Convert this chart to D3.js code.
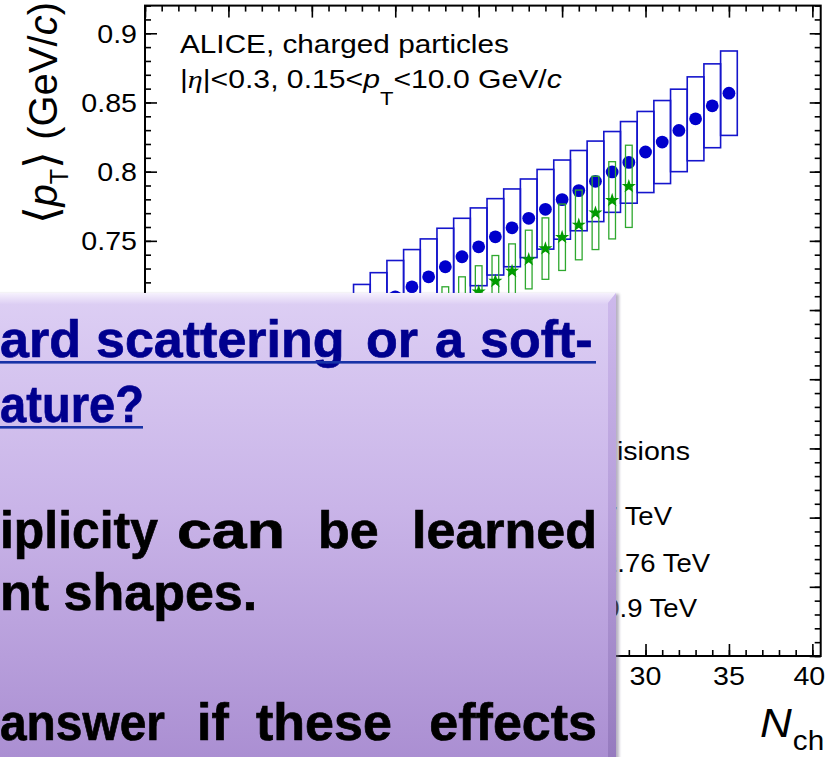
<!DOCTYPE html>
<html>
<head>
<meta charset="utf-8">
<script src="https://cdn.jsdelivr.net/npm/d3@7"></script>
<style>
  body { margin: 0; background: #ffffff; }
  svg { display: block; }
</style>
</head>
<body>
<svg id="chart" width="837" height="757"></svg>
<script>
// ---- data: mean transverse momentum vs charged multiplicity ----
const nch7 = [13, 14, 15, 16, 17, 18, 19, 20, 21, 22, 23, 24, 25, 26, 27, 28, 29, 30, 31, 32, 33, 34, 35];
const meanPt7 = [0.693, 0.701, 0.7095, 0.7168, 0.724, 0.7313, 0.7385, 0.7457, 0.7529, 0.7594, 0.7663, 0.7728,
                 0.7798, 0.7863, 0.793, 0.7998, 0.8067, 0.8142, 0.8214, 0.8298, 0.8382, 0.8476, 0.8567];
const sys7 = [0.0255, 0.026, 0.0263, 0.0269, 0.0274, 0.0278, 0.0278, 0.0281, 0.0276, 0.0281, 0.0284, 0.0288,
              0.0286, 0.029, 0.0291, 0.0292, 0.0295, 0.0293, 0.03, 0.0298, 0.0303, 0.0303, 0.0305];

const nch276 = [18, 19, 20, 21, 22, 23, 24, 25, 26, 27, 28, 29];
const meanPt276 = [0.699, 0.706, 0.7132, 0.7209, 0.7281, 0.7365, 0.7444, 0.7526, 0.7615, 0.7702, 0.7793, 0.7894];
const sys276 = [0.0178, 0.018, 0.0188, 0.0185, 0.0197, 0.0212, 0.0222, 0.024, 0.0252, 0.0265, 0.0279, 0.0297];

const xDomain = [0, 40.5];
const yDomain = [0.45, 0.92];
const xMajorTicks = [0, 5, 10, 15, 20, 25, 30, 35, 40];
const yMajorTicks = [0.45, 0.5, 0.55, 0.6, 0.65, 0.7, 0.75, 0.8, 0.85, 0.9];
// labelled ticks left uncovered by the slide panel
const xLabelTicks = [30, 35, 40];
const xTickLabels = ["30", "35", "40"];
const yLabelTicks = [0.75, 0.8, 0.85, 0.9];
const yTickLabels = ["0.75", "0.8", "0.85", "0.9"];

const legendHeader = "pp collisions";
const legendLabels = ["7 TeV", "2.76 TeV", "0.9 TeV"];

// slide note laid over the lower-left part of the figure
const noteLine1 = ["ard", "scattering", "or", "a", "soft-"];
const noteLine2 = ["ature?"];
const noteLine3 = ["iplicity", "can", "be", "learned"];
const noteLine4 = ["nt shapes."];
const noteLine5 = ["answer", "if", "these", "effects"];

// ---- layout ----
const SANS = "'Liberation Sans', Arial, Helvetica, sans-serif";
const SERIF = "'Liberation Serif', 'Times New Roman', serif";
const SX = 1.1; // horizontal stretch of the figure lettering
const frame = { left: 145, right: 820.7, top: 5.6, bottom: 656 };
const pTop = 293, pRight = 616, pLeft = -20, pBottom = 770; // slide panel

const svg = d3.select("#chart");
const defs = svg.append("defs");
const x = d3.scaleLinear().domain(xDomain).range([frame.left, frame.right]);
const y = d3.scaleLinear().domain(yDomain).range([frame.bottom, frame.top]);

function addText(parent, o) {
  return parent.append("text")
    .attr("transform", `translate(${o.x},${o.y}) scale(${o.sx ?? SX},1)`)
    .attr("text-anchor", o.anchor || "start")
    .attr("font-family", o.family || SANS)
    .attr("font-size", o.size)
    .attr("font-weight", o.weight || "normal")
    .attr("font-style", o.style || "normal")
    .attr("fill", o.fill || "#000")
    .text(o.text || null);
}
function fitWidth(sel, x0, y0, width, rotate) {
  const w = sel.node().getComputedTextLength();
  sel.attr("transform", `translate(${x0},${y0})${rotate ? " rotate(" + rotate + ")" : ""} scale(${width / w},1)`);
}

// ---- axes: ticks on all four sides, pointing inwards ----
const yMinor = d3.range(45, 93).map(v => v / 100);
const xMinor = d3.range(0, 41);
function tickAxis(axisFn, scale, values, size, tx, ty) {
  const g = svg.append("g").attr("transform", `translate(${tx},${ty})`)
    .call(axisFn(scale).tickValues(values).tickSizeInner(-size).tickSizeOuter(0).tickFormat(""));
  g.select(".domain").remove();
  g.selectAll("line").attr("stroke", "#000").attr("stroke-width", 1.6);
}
tickAxis(d3.axisLeft, y, yMinor, 6, frame.left, 0);
tickAxis(d3.axisLeft, y, yMajorTicks, 12, frame.left, 0);
tickAxis(d3.axisRight, y, yMinor, 6, frame.right, 0);
tickAxis(d3.axisRight, y, yMajorTicks, 11, frame.right, 0);
tickAxis(d3.axisBottom, x, xMinor, 6, 0, frame.bottom);
tickAxis(d3.axisBottom, x, xMajorTicks, 12, 0, frame.bottom);
tickAxis(d3.axisTop, x, xMinor, 6, 0, frame.top);
tickAxis(d3.axisTop, x, xMajorTicks, 12, 0, frame.top);

svg.append("rect")
  .attr("x", frame.left).attr("y", frame.top)
  .attr("width", frame.right - frame.left).attr("height", frame.bottom - frame.top)
  .attr("fill", "none").attr("stroke", "#000").attr("stroke-width", 2);

// tick labels
yLabelTicks.forEach((v, i) => addText(svg, { x: 137, y: y(v) + 9.5, text: yTickLabels[i], size: 26, anchor: "end" }));
xLabelTicks.forEach((v, i) => addText(svg, { x: x(v) - (i === xLabelTicks.length - 1 ? 3 : 0), y: 685, text: xTickLabels[i], size: 26, anchor: "middle" }));

// axis titles
const yTitle = svg.append("text")
  .attr("font-family", SANS).attr("font-size", 40).attr("text-anchor", "end")
  .attr("transform", "translate(57,2) rotate(-90)");
yTitle.append("tspan").attr("font-size", 46).text("\u27E8");
yTitle.append("tspan").attr("font-style", "italic").text("p");
yTitle.append("tspan").attr("font-size", 25).attr("dy", 11).text("T");
yTitle.append("tspan").attr("font-size", 46).attr("dy", -11).text("\u27E9");
yTitle.append("tspan").text(" (GeV/");
yTitle.append("tspan").attr("font-style", "italic").text("c");
yTitle.append("tspan").text(")");

const xTitle = svg.append("text").attr("font-family", SANS).attr("transform", `translate(760,737) scale(${SX},1)`);
xTitle.append("tspan").attr("font-size", 40).attr("font-style", "italic").text("N");
xTitle.append("tspan").attr("font-size", 27).attr("dy", 13).attr("dx", 1).text("ch");

// ---- data marks ----
svg.append("g").selectAll("rect").data(nch7).join("rect")
  .attr("x", (d) => x(d - 0.5))
  .attr("width", (d) => x(d + 0.5) - x(d - 0.5))
  .attr("y", (d, i) => y(meanPt7[i] + sys7[i]))
  .attr("height", (d, i) => y(meanPt7[i] - sys7[i]) - y(meanPt7[i] + sys7[i]))
  .attr("fill", "none").attr("stroke", "#1515cc").attr("stroke-width", 1.6);

svg.append("g").selectAll("circle").data(nch7).join("circle")
  .attr("cx", (d) => x(d)).attr("cy", (d, i) => y(meanPt7[i])).attr("r", 6.4)
  .attr("fill", "#0000cc");

svg.append("g").selectAll("rect").data(nch276).join("rect")
  .attr("x", (d) => x(d - 0.2))
  .attr("width", (d) => x(d + 0.2) - x(d - 0.2))
  .attr("y", (d, i) => y(meanPt276[i] + sys276[i]))
  .attr("height", (d, i) => y(meanPt276[i] - sys276[i]) - y(meanPt276[i] + sys276[i]))
  .attr("fill", "none").attr("stroke", "#2ea82e").attr("stroke-width", 1.3);

const star = d3.symbol(d3.symbolStar, 62);
svg.append("g").selectAll("path").data(nch276).join("path")
  .attr("transform", (d, i) => `translate(${x(d)},${y(meanPt276[i])})`)
  .attr("d", star).attr("fill", "#009a00");

// ---- caption in the upper-left corner ----
const cap1 = addText(svg, { x: 180, y: 53.3, text: "ALICE, charged particles", size: 26 });
fitWidth(cap1, 180, 53.3, 329);
const cap2 = svg.append("text").attr("font-family", SANS).attr("font-size", 26);
cap2.append("tspan").text("|");
cap2.append("tspan").attr("font-family", SERIF).attr("font-style", "italic").text("\u03B7");
cap2.append("tspan").text("|<0.3, 0.15<");
cap2.append("tspan").attr("font-style", "italic").text("p");
cap2.append("tspan").attr("font-size", 19).attr("dy", 17).text("T");
cap2.append("tspan").attr("dy", -17).text("<10.0 GeV/");
cap2.append("tspan").attr("font-style", "italic").text("c");
fitWidth(cap2, 180, 88.3, 382);

// ---- legend (its left part sits behind the slide panel) ----
defs.append("clipPath").attr("id", "legendClip")
  .append("rect").attr("x", pRight).attr("y", 0).attr("width", 837 - pRight).attr("height", 757);
const legend = svg.append("g").attr("clip-path", "url(#legendClip)");
addText(legend, { x: 690, y: 460, text: legendHeader, size: 26, anchor: "end" });
const legendY = [525, 572, 617];
const legendEnds = [672, 710, 697];
legendLabels.forEach((t, i) => addText(legend, { x: legendEnds[i], y: legendY[i], text: t, size: 25, anchor: "end" }));

// ---- slide panel laid over the figure ----
const panelGrad = defs.append("linearGradient").attr("id", "panelFill").attr("x1", 0).attr("y1", 0).attr("x2", 0).attr("y2", 1);
[[0, "#ddcff4"], [0.45, "#c9b4e8"], [1, "#a98dd1"]].forEach(([o, c]) => panelGrad.append("stop").attr("offset", o).attr("stop-color", c));
const topBevel = defs.append("linearGradient").attr("id", "topBevel").attr("x1", 0).attr("y1", 0).attr("x2", 0).attr("y2", 1);
[[0, "#f6f1fd"], [1, "#ddcff4"]].forEach(([o, c]) => topBevel.append("stop").attr("offset", o).attr("stop-color", c));
const sideBevel = defs.append("linearGradient").attr("id", "sideBevel").attr("x1", 0).attr("y1", 0).attr("x2", 0).attr("y2", 1);
[[0, "#cdb9ec"], [0.5, "#b49cd8"], [1, "#9479bd"]].forEach(([o, c]) => sideBevel.append("stop").attr("offset", o).attr("stop-color", c));
defs.append("filter").attr("id", "soft").attr("x", -0.1).attr("y", -0.1).attr("width", 1.2).attr("height", 1.2)
  .append("feGaussianBlur").attr("stdDeviation", 1.6);

const panel = svg.append("g");
panel.append("rect").attr("x", pLeft).attr("y", pTop + 1).attr("width", pRight - pLeft + 3).attr("height", pBottom - pTop)
  .attr("fill", "#7d7390").attr("opacity", 0.55).attr("filter", "url(#soft)");
panel.append("rect").attr("x", pLeft).attr("y", pTop).attr("width", pRight - pLeft).attr("height", pBottom - pTop)
  .attr("fill", "url(#panelFill)");
panel.append("polygon")
  .attr("points", [[pLeft, pTop], [pRight, pTop], [pRight - 9, pTop + 11], [pLeft, pTop + 11]].join(" "))
  .attr("fill", "url(#topBevel)");
panel.append("polygon")
  .attr("points", [[pRight, pTop], [pRight, pBottom], [pRight - 8, pBottom], [pRight - 8, pTop + 10]].join(" "))
  .attr("fill", "url(#sideBevel)");

function noteWord(word, xPos, yPos, anchor, fill) {
  return addText(panel, { x: xPos, y: yPos, text: word, size: 52, weight: "bold", anchor, fill, sx: 1 })
    .attr("stroke", fill).attr("stroke-width", 0.7);
}
const NAVY = "#00008e";
const line1X = [0, 96, 366, 435, 480];
noteLine1.forEach((w, i) => noteWord(w, line1X[i], 357, "start", NAVY));
fitWidth(noteWord(noteLine2[0], 0, 422, "start", NAVY), 0, 422, 144);
panel.append("rect").attr("x", 0).attr("y", 361).attr("width", 596).attr("height", 2.6).attr("fill", "#1732a6");
panel.append("rect").attr("x", 0).attr("y", 426).attr("width", 143).attr("height", 2.6).attr("fill", "#1732a6");

const line3X = [0, 177, 318, 597];
const line3W = { "iplicity": 158, "can": 108 };
noteLine3.forEach((w, i) => {
  const t = noteWord(w, line3X[i], 548, i === 3 ? "end" : "start", "#000");
  if (line3W[w]) fitWidth(t, line3X[i], 548, line3W[w]);
});
noteWord(noteLine4[0], 0, 610, "start", "#000");
const line5X = [0, 197, 256, 597];
noteLine5.forEach((w, i) => {
  const t = noteWord(w, line5X[i], 740, i === 3 ? "end" : "start", "#000");
  if (i === 0) fitWidth(t, 0, 740, 165);
});
</script>
</body>
</html>
